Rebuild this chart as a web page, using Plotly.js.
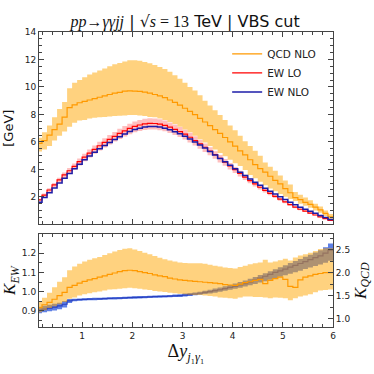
<!DOCTYPE html>
<html>
<head>
<meta charset="utf-8">
<script src="https://cdn.plot.ly/plotly-3.0.1.min.js"></script>
<style>
  html, body { margin: 0; padding: 0; background: #fff; }
  #chart { width: 374px; height: 374px; }
</style>
</head>
<body>
<div id="chart"></div>
<script>
// bins of width 0.1 from 0.1 to 6.0 in delta y(j1, gamma1)
const binStart = 0.1, binWidth = 0.1, nBins = 59;

// main panel, [GeV]
const qcdNlo = [5.9, 6.1, 6.5, 6.9, 7.3, 7.8, 8.5, 8.7, 8.85, 8.95, 9.05, 9.15, 9.25, 9.35, 9.45, 9.55, 9.6, 9.7, 9.72, 9.7,
  9.68, 9.62, 9.55, 9.45, 9.35, 9.22, 9.05, 8.88, 8.68, 8.45, 8.22, 7.98, 7.72, 7.45, 7.18, 6.9, 6.62, 6.32, 6.0, 5.7,
  5.35, 5.05, 4.7, 4.35, 4.05, 3.8, 3.5, 3.2, 2.95, 2.6, 2.3, 1.95, 1.8, 1.6, 1.45, 1.25, 1.05, 0.8, 0.55];
const qcdNloHi = [6.3, 6.7, 7.2, 7.8, 8.4, 8.9, 9.9, 10.3, 10.5, 10.7, 10.9, 11.05, 11.2, 11.35, 11.5, 11.65, 11.75, 11.85, 11.95, 11.95,
  11.9, 11.82, 11.72, 11.6, 11.45, 11.3, 11.1, 10.85, 10.6, 10.3, 10.0, 9.75, 9.4, 9.0, 8.65, 8.3, 7.95, 7.6, 7.2, 6.85,
  6.45, 6.05, 5.7, 5.35, 5.0, 4.5, 4.2, 3.9, 3.55, 3.2, 2.9, 2.35, 2.15, 1.95, 1.75, 1.5, 1.3, 1.0, 0.75];
const qcdNloLo = [5.3, 5.45, 5.7, 6.1, 6.45, 6.75, 7.1, 7.4, 7.55, 7.6, 7.7, 7.75, 7.8, 7.82, 7.85, 7.88, 7.9, 7.92, 7.95, 7.95,
  7.92, 7.88, 7.82, 7.8, 7.7, 7.6, 7.45, 7.3, 7.1, 6.9, 6.7, 6.45, 6.2, 5.95, 5.7, 5.45, 5.2, 4.95, 4.7, 4.45,
  4.25, 3.95, 3.6, 3.35, 3.1, 2.85, 2.6, 2.4, 2.2, 2.0, 1.85, 1.7, 1.5, 1.35, 1.2, 1.0, 0.85, 0.6, 0.4];
const ewLo = [1.78, 2.13, 2.5, 2.87, 3.24, 3.6, 3.9, 4.22, 4.56, 4.89, 5.18, 5.46, 5.72, 5.96, 6.19, 6.41, 6.62, 6.81, 6.98, 7.13,
  7.23, 7.31, 7.35, 7.34, 7.29, 7.2, 7.07, 6.91, 6.75, 6.56, 6.34, 6.1, 5.86, 5.61, 5.34, 5.07, 4.8, 4.53, 4.26, 3.98,
  3.71, 3.44, 3.18, 2.94, 2.7, 2.47, 2.25, 2.04, 1.83, 1.63, 1.44, 1.26, 1.1, 0.96, 0.82, 0.68, 0.55, 0.42, 0.29];
const ewLoHi = [1.87, 2.24, 2.63, 3.01, 3.4, 3.78, 4.1, 4.43, 4.79, 5.13, 5.44, 5.73, 6.01, 6.26, 6.5, 6.73, 6.95, 7.15, 7.33, 7.49,
  7.59, 7.68, 7.72, 7.71, 7.65, 7.56, 7.42, 7.26, 7.09, 6.89, 6.66, 6.41, 6.15, 5.89, 5.61, 5.32, 5.04, 4.76, 4.47, 4.18,
  3.9, 3.61, 3.34, 3.09, 2.84, 2.59, 2.36, 2.14, 1.92, 1.71, 1.51, 1.32, 1.16, 1.01, 0.86, 0.71, 0.58, 0.44, 0.31];
const ewLoLo = [1.67, 2.0, 2.35, 2.7, 3.05, 3.38, 3.67, 3.97, 4.29, 4.6, 4.87, 5.13, 5.38, 5.6, 5.82, 6.03, 6.22, 6.4, 6.56, 6.7,
  6.8, 6.87, 6.91, 6.9, 6.85, 6.77, 6.65, 6.5, 6.35, 6.17, 5.96, 5.73, 5.51, 5.27, 5.02, 4.77, 4.51, 4.26, 4.0, 3.74,
  3.49, 3.23, 2.99, 2.76, 2.54, 2.32, 2.12, 1.92, 1.72, 1.53, 1.35, 1.18, 1.03, 0.9, 0.77, 0.64, 0.52, 0.39, 0.27];
const ewNlo = [1.6, 1.95, 2.3, 2.65, 3.0, 3.35, 3.7, 4.05, 4.38, 4.7, 4.98, 5.25, 5.5, 5.73, 5.95, 6.17, 6.38, 6.58, 6.75, 6.9,
  7.0, 7.08, 7.12, 7.12, 7.08, 7.0, 6.88, 6.74, 6.6, 6.42, 6.22, 6.0, 5.78, 5.55, 5.3, 5.05, 4.8, 4.55, 4.3, 4.05,
  3.8, 3.55, 3.3, 3.07, 2.84, 2.62, 2.4, 2.2, 2.0, 1.8, 1.6, 1.42, 1.25, 1.1, 0.95, 0.8, 0.65, 0.5, 0.35];

// ratio panel
const kEw = [0.905, 0.91, 0.915, 0.92, 0.926, 0.935, 0.952, 0.957, 0.959, 0.96, 0.961, 0.962, 0.963, 0.964, 0.965, 0.966, 0.967, 0.968, 0.969, 0.97,
  0.971, 0.972, 0.973, 0.974, 0.975, 0.976, 0.977, 0.978, 0.98, 0.982, 0.985, 0.988, 0.992, 0.996, 1.0, 1.005, 1.01, 1.016, 1.022, 1.028,
  1.035, 1.042, 1.05, 1.06, 1.07, 1.08, 1.09, 1.1, 1.108, 1.117, 1.127, 1.136, 1.146, 1.156, 1.166, 1.176, 1.186, 1.2, 1.215];
const kEwLo = [0.888, 0.893, 0.898, 0.903, 0.909, 0.918, 0.942, 0.95, 0.953, 0.954, 0.955, 0.956, 0.957, 0.958, 0.959, 0.96, 0.961, 0.962, 0.963, 0.964,
  0.965, 0.966, 0.967, 0.968, 0.969, 0.97, 0.971, 0.972, 0.973, 0.975, 0.978, 0.981, 0.984, 0.988, 0.991, 0.995, 1.0, 1.005, 1.01, 1.015,
  1.021, 1.027, 1.033, 1.04, 1.047, 1.054, 1.062, 1.07, 1.077, 1.085, 1.093, 1.101, 1.109, 1.117, 1.125, 1.133, 1.141, 1.15, 1.16];
const kEwHi = [0.922, 0.927, 0.932, 0.937, 0.943, 0.952, 0.962, 0.964, 0.965, 0.966, 0.967, 0.968, 0.969, 0.97, 0.971, 0.972, 0.973, 0.974, 0.975, 0.976,
  0.977, 0.978, 0.979, 0.98, 0.981, 0.982, 0.983, 0.985, 0.987, 0.99, 0.993, 0.996, 1.0, 1.005, 1.01, 1.016, 1.022, 1.028, 1.035, 1.042,
  1.05, 1.058, 1.067, 1.076, 1.086, 1.096, 1.106, 1.116, 1.126, 1.137, 1.148, 1.159, 1.17, 1.181, 1.192, 1.203, 1.215, 1.23, 1.25];
const kQcd = [1.24, 1.3, 1.35, 1.42, 1.5, 1.57, 1.68, 1.72, 1.77, 1.81, 1.84, 1.87, 1.9, 1.93, 1.96, 1.99, 2.02, 2.04, 2.05, 2.04,
  2.02, 2.0, 1.98, 1.95, 1.93, 1.91, 1.88, 1.86, 1.84, 1.83, 1.82, 1.81, 1.8, 1.79, 1.78, 1.77, 1.76, 1.74, 1.73, 1.72,
  1.75, 1.78, 1.8, 1.83, 1.85, 1.76, 1.83, 1.87, 1.9, 1.85, 1.7, 1.68, 1.84, 1.9, 1.93, 1.96, 1.98, 2.0, 2.0];
const kQcdHi = [1.36, 1.45, 1.56, 1.68, 1.8, 1.9, 2.05, 2.13, 2.19, 2.24, 2.28, 2.31, 2.34, 2.38, 2.42, 2.46, 2.49, 2.52, 2.53, 2.5,
  2.47, 2.43, 2.4, 2.36, 2.32, 2.29, 2.26, 2.24, 2.22, 2.21, 2.2, 2.2, 2.2, 2.19, 2.17, 2.15, 2.13, 2.11, 2.1, 2.09,
  2.12, 2.15, 2.18, 2.2, 2.22, 2.28, 2.22, 2.24, 2.27, 2.3, 2.26, 2.33, 2.37, 2.4, 2.43, 2.47, 2.51, 2.53, 2.53];
const kQcdLo = [1.14, 1.18, 1.23, 1.27, 1.31, 1.36, 1.43, 1.46, 1.5, 1.53, 1.55, 1.57, 1.59, 1.61, 1.63, 1.64, 1.65, 1.66, 1.67, 1.66,
  1.65, 1.63, 1.62, 1.6, 1.59, 1.58, 1.56, 1.55, 1.54, 1.53, 1.52, 1.51, 1.51, 1.5, 1.49, 1.48, 1.46, 1.45, 1.44, 1.43,
  1.46, 1.48, 1.48, 1.47, 1.47, 1.46, 1.44, 1.46, 1.45, 1.44, 1.4, 1.44, 1.48, 1.5, 1.53, 1.57, 1.61, 1.62, 1.63];

const edges = [];
for (let i = 0; i <= nBins; i++) edges.push(+(binStart + i * binWidth).toFixed(2));
const stepY = v => v.concat([v[v.length - 1]]);

const ORANGE = '#ff9900';
const ORANGE_BAND = 'rgba(255,165,0,0.5)';
const PINK_BAND = 'rgba(255,0,0,0.25)';
const NAVY = '#1c1ca8';

function band(lo, hi, color, xa, ya) {
    return [
        { x: edges, y: stepY(lo), xaxis: xa, yaxis: ya, mode: 'lines', line: { shape: 'hv', width: 0 },
          showlegend: false, hoverinfo: 'skip' },
        { x: edges, y: stepY(hi), xaxis: xa, yaxis: ya, mode: 'lines', line: { shape: 'hv', width: 0 },
          fill: 'tonexty', fillcolor: color, showlegend: false, hoverinfo: 'skip' }
    ];
}
function step(v, color, name, xa, ya, w) {
    return { x: edges, y: stepY(v), xaxis: xa, yaxis: ya, mode: 'lines', name: name || '',
             showlegend: !!name, line: { shape: 'hv', color: color, width: w || 1.2 } };
}

const traces = [
    ...band(qcdNloLo, qcdNloHi, ORANGE_BAND, 'x', 'y'),
    step(qcdNlo, ORANGE, 'QCD NLO', 'x', 'y'),
    ...band(ewLoLo, ewLoHi, PINK_BAND, 'x', 'y'),
    step(ewLo, '#ff0000', 'EW LO', 'x', 'y'),
    step(ewNlo, NAVY, 'EW NLO', 'x', 'y', 1.5),
    ...band(kEwLo, kEwHi, 'rgba(65,105,225,0.85)', 'x2', 'y2'),
    step(kEw, '#2a40c0', '', 'x2', 'y2', 1.2),
    ...band(kQcdLo, kQcdHi, ORANGE_BAND, 'x2', 'y3'),
    step(kQcd, ORANGE, '', 'x2', 'y3')
];

const FRAME = '#444';
const tickFont = { family: 'DejaVu Sans', size: 9, color: '#222' };
const commonX = {
    range: [0.14, 6], showline: true, linecolor: FRAME, linewidth: 1, mirror: 'ticks',
    ticks: 'inside', ticklen: 5, tickcolor: FRAME, dtick: 1, tick0: 0, zeroline: false, showgrid: false,
    minor: { ticks: 'inside', ticklen: 3, dtick: 0.2, tickcolor: FRAME },
    tickfont: tickFont
};

const layout = {
    width: 374, height: 374,
    margin: { l: 39, r: 41, t: 32, b: 47 },
    paper_bgcolor: '#fff', plot_bgcolor: '#fff',
    font: { family: 'DejaVu Sans', color: '#222' },
    title: {
        text: '<span style="font-family:Liberation Serif"><i>pp</i>→<i>γγjj</i></span> | √<span style="font-family:Liberation Serif"><i>s</i> = 13</span> TeV | VBS cut',
        font: { size: 16, color: '#111' }, x: 0.495, xanchor: 'center', y: 0.942, yanchor: 'middle'
    },
    showlegend: true,
    legend: {
        x: 0.64, y: 0.975, xanchor: 'left', yanchor: 'top', bgcolor: 'rgba(0,0,0,0)', traceorder: 'normal',
        font: { size: 10.5, color: '#222' }, tracegroupgap: 0, itemwidth: 30
    },
    xaxis: Object.assign({}, commonX, { anchor: 'y', showticklabels: false, matches: 'x2' }),
    yaxis: {
        domain: [0.348, 1], range: [0, 14], tickvals: [2, 4, 6, 8, 10, 12, 14],
        showline: true, linecolor: FRAME, mirror: 'ticks', ticks: 'inside', ticklen: 5, tickcolor: FRAME,
        minor: { ticks: 'inside', ticklen: 3, dtick: 0.5, tickcolor: FRAME },
        showgrid: false, zeroline: false, tickfont: tickFont,
        title: { text: '[GeV]', font: { size: 13, color: '#111' }, standoff: 8 }
    },
    xaxis2: Object.assign({}, commonX, {
        anchor: 'y2',
        title: { text: '<span style="font-family:Liberation Serif">Δ<i>y</i><sub><i>j</i>₁<i>γ</i>₁</sub></span>',
                 font: { size: 18, color: '#111' }, standoff: 3 }
    }),
    yaxis2: {
        domain: [0, 0.314], anchor: 'x2', range: [0.817, 1.297], tickvals: [0.9, 1.0, 1.1, 1.2], tickformat: '.1f',
        showline: true, linecolor: FRAME, ticks: 'inside', ticklen: 5, tickcolor: FRAME,
        minor: { ticks: 'inside', ticklen: 3, dtick: 0.05, tickcolor: FRAME },
        showgrid: false, zeroline: false, tickfont: tickFont,
        title: { text: '<span style="font-family:Liberation Serif"><i>K</i><sub><i>EW</i></sub></span>',
                 font: { size: 17, color: '#111' }, standoff: 4 }
    },
    yaxis3: {
        overlaying: 'y2', side: 'right', anchor: 'x2', range: [0.817, 2.83],
        tickvals: [1.0, 1.5, 2.0, 2.5], tickformat: '.1f',
        showline: true, linecolor: FRAME, ticks: 'inside', ticklen: 5, tickcolor: FRAME,
        minor: { ticks: 'inside', ticklen: 3, dtick: 0.25, tickcolor: FRAME },
        showgrid: false, zeroline: false, tickfont: tickFont,
        title: { text: '<span style="font-family:Liberation Serif"><i>K</i><sub><i>QCD</i></sub></span>',
                 font: { size: 17, color: '#111' }, standoff: 4 }
    }
};

Plotly.newPlot('chart', traces, layout, { displayModeBar: false, staticPlot: true });
</script>
</body>
</html>
